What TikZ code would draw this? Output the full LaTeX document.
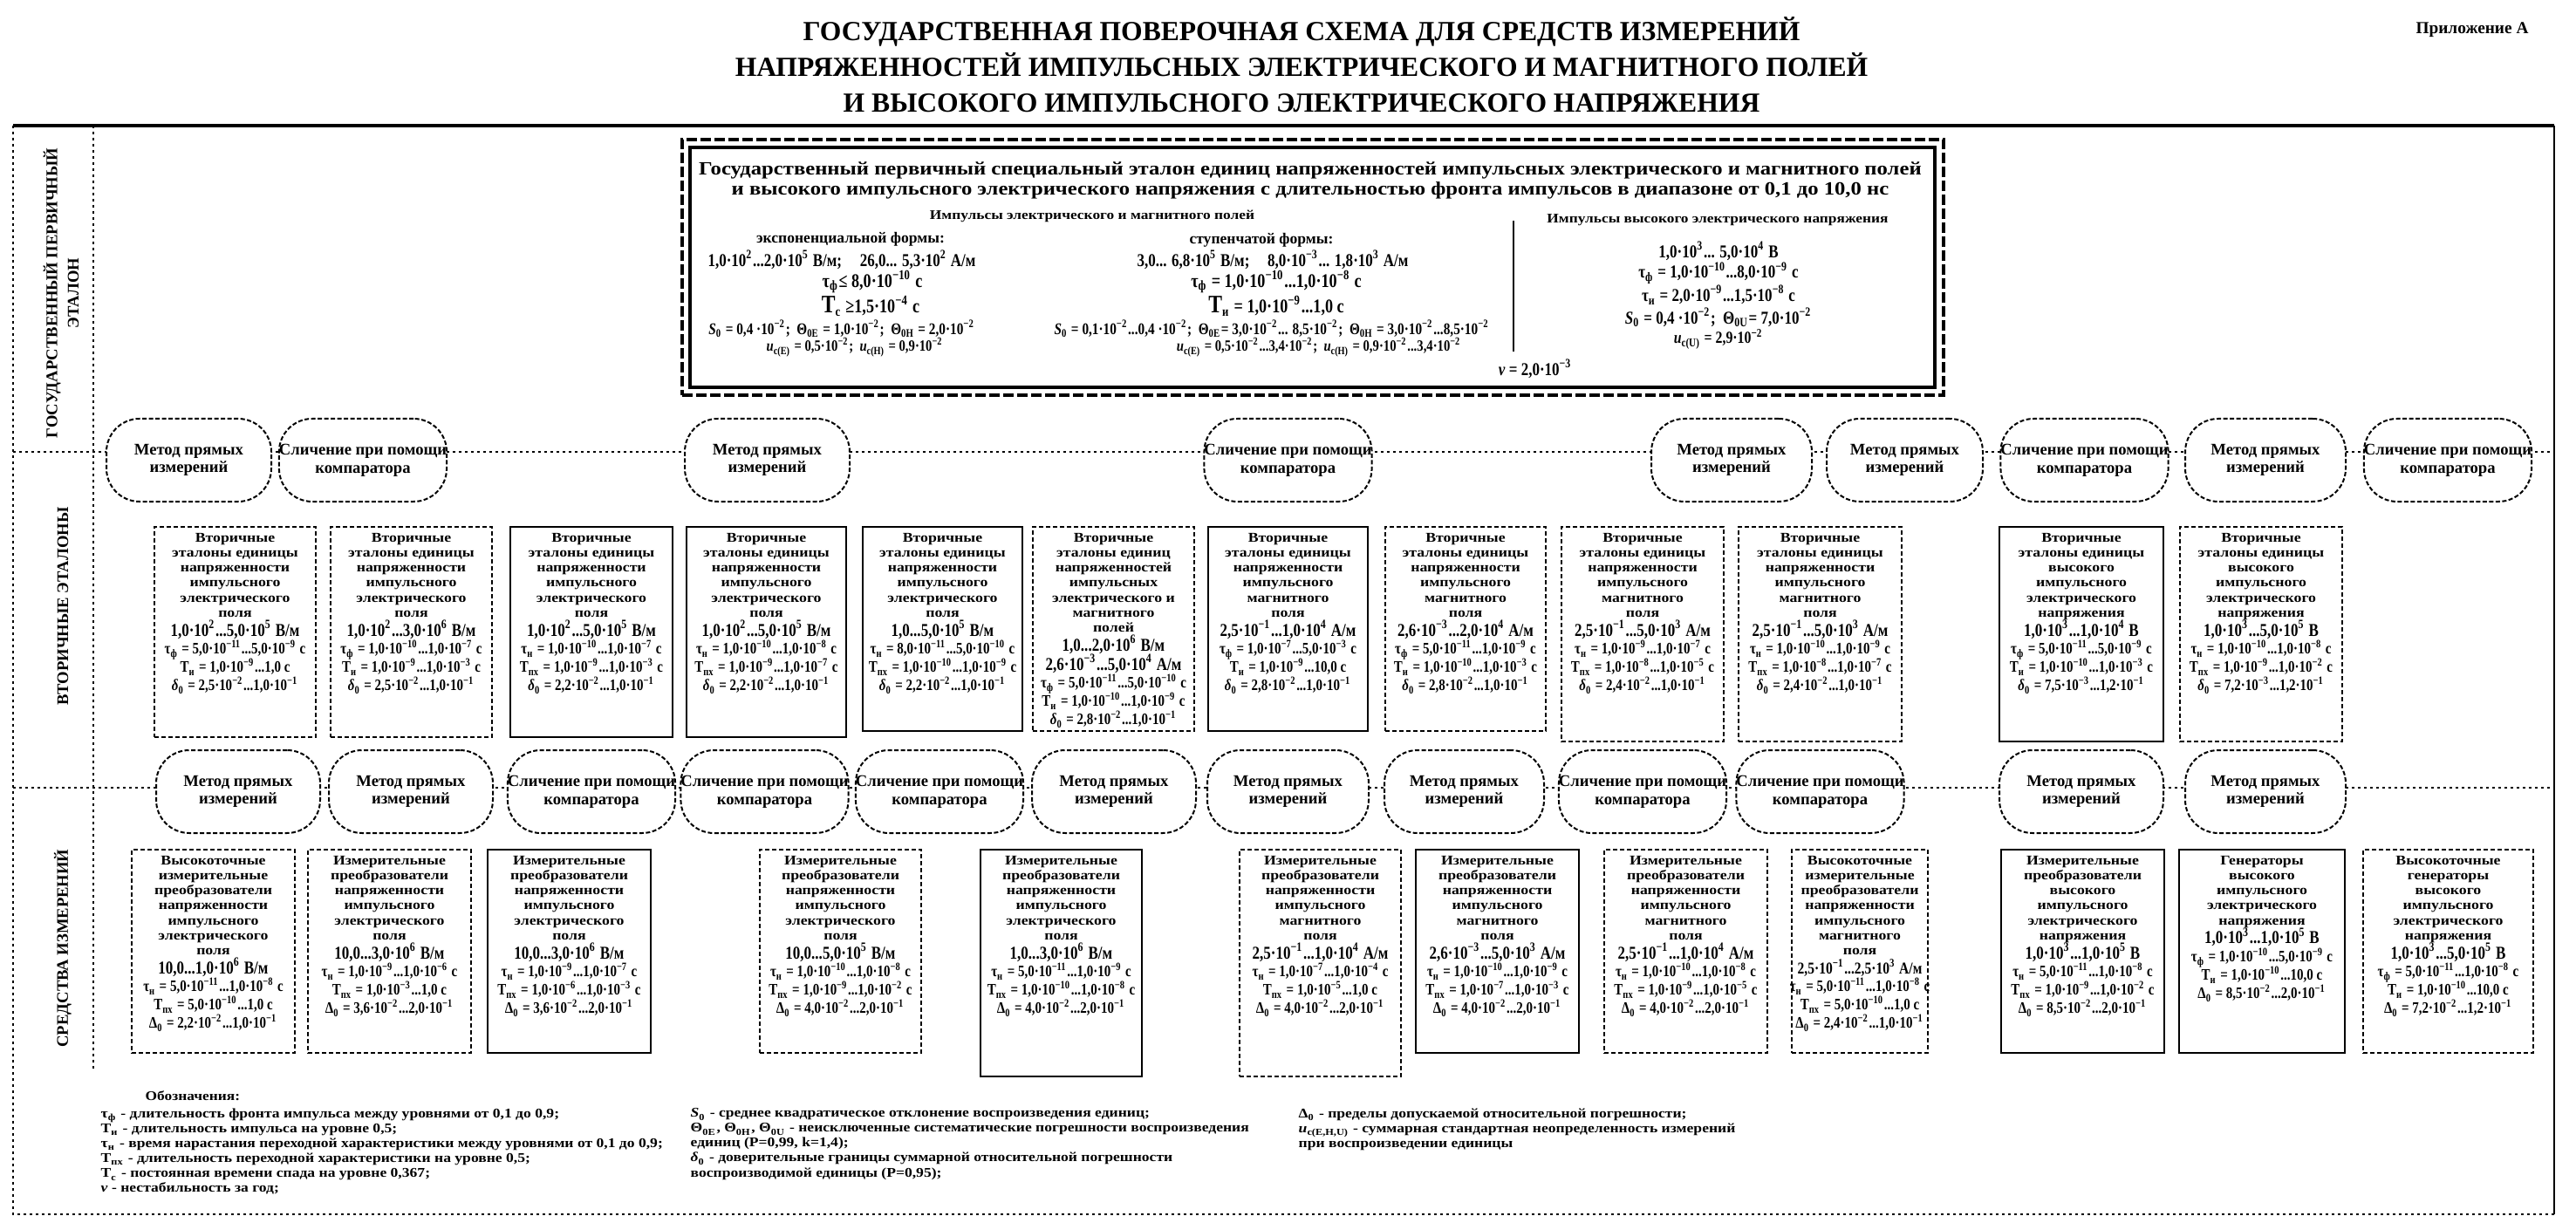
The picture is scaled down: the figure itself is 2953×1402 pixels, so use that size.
\documentclass[tikz,border=0pt]{standalone}
\usepackage{fontspec}
\setmainfont{Liberation Serif}
\newfontfamily\cnd{Liberation Serif}[FakeStretch=0.82]
\newfontfamily\widefam{Liberation Serif}[FakeStretch=1.15]
\usetikzlibrary{backgrounds}
\newcommand\fs[2]{\fontsize{#1}{#2}\selectfont\bfseries\lineskiplimit=-20pt\relax}
\newcommand\cfs[2]{\cnd\fontsize{#1}{#2}\selectfont\bfseries\lineskiplimit=-20pt\relax}
\newcommand\wfs[2]{\widefam\fontsize{#1}{#2}\selectfont\bfseries\lineskiplimit=-20pt\relax}
\newcommand\sbs[1]{\textsubscript{#1}}
\newcommand\tpow[1]{·10\textsuperscript{#1}}
\newcommand\prm[1]{{\cnd\fontsize{5.2}{4.2}\selectfont\bfseries #1}}
\newcommand\parln[1]{\\[1.1pt]\prm{#1}}
\newcommand\valln[1]{\\[1.4pt]{\cnd\fontsize{5.9}{4.2}\selectfont\bfseries #1}}
\newcommand\valsm[1]{\\[1.4pt]{\cnd\fontsize{5.4}{4.2}\selectfont\bfseries #1}}
\newcommand\dl{\textit{δ}\sbs{0}}
\newcommand\Dl{Δ\sbs{0}}
\newcommand\secE{Вторичные\\эталоны единицы\\напряженности\\импульсного\\электрического\\поля}
\newcommand\secH{Вторичные\\эталоны единицы\\напряженности\\импульсного\\магнитного\\поля}
\newcommand\secU{Вторичные\\эталоны единицы\\высокого\\импульсного\\электрического\\напряжения}
\newcommand\secF{Вторичные\\эталоны единиц\\напряженностей\\импульсных\\электрического и\\магнитного\\полей}
\newcommand\mpE{Измерительные\\преобразователи\\напряженности\\импульсного\\электрического\\поля}
\newcommand\mpH{Измерительные\\преобразователи\\напряженности\\импульсного\\магнитного\\поля}
\newcommand\mkbox[7]{%
  \node[#2, minimum width={(#4-#3)*0.1mm}, minimum height={(#6-#5)*0.1mm}] (#1) at ({(#3+#4)/2},{(#5+#6)/2}) {};
  \node[boxtext, anchor=north] (#1t) at ([yshift=-0.8mm]#1.north) {#7};}
\newcommand\mnode[6]{%
  \node[methnode, minimum width={(#3-#2)*0.1mm}, minimum height={(#5-#4)*0.1mm}] (#1) at ({(#2+#3)/2},{(#4+#5)/2}) {#6};}
\tikzset{
  every node/.style={inner sep=0pt, font=\fs{5}{6}},
  methnode/.style={draw, fill=white, rounded corners=3.8mm, line width=0.2mm, dash pattern=on 0.5mm off 0.25mm, font=\fs{5.3}{5.9}, align=center},
  sbox/.style={draw, fill=white, line width=0.2mm},
  dbox/.style={sbox, dash pattern=on 0.5mm off 0.3mm},
  boxtext/.style={font=\wfs{4.4}{4.85}, align=center},
  conn/.style={line width=0.2mm},
  sepline/.style={line width=0.2mm, dash pattern=on 0.3mm off 0.4mm},
}
\begin{document}
\begin{tikzpicture}[x=0.1mm,y=-0.1mm]
\useasboundingbox (0,0) rectangle (2953,1402);
\fill[white] (0,0) rectangle (2953,1402);
% title
\node[font=\fs{9}{11.7}, align=center] (title) at (1492,74) {ГОСУДАРСТВЕННАЯ ПОВЕРОЧНАЯ СХЕМА ДЛЯ СРЕДСТВ ИЗМЕРЕНИЙ\\НАПРЯЖЕННОСТЕЙ ИМПУЛЬСНЫХ ЭЛЕКТРИЧЕСКОГО И МАГНИТНОГО ПОЛЕЙ\\И ВЫСОКОГО ИМПУЛЬСНОГО ЭЛЕКТРИЧЕСКОГО НАПРЯЖЕНИЯ};
\node[font=\fs{5.5}{6}] (app) at (2834,34) {Приложение А};
% frame
\draw[line width=0.4mm] (15,144) -- (2928,144);
\draw[sepline] (15,144) -- (15,1392) -- (2928,1392);
\draw[line width=0.2mm] (2928,144) -- (2928,1392);
\draw[sepline] (107,144) -- (107,1225);
\draw[sepline] (15,518) -- (2928,518);
\draw[sepline] (15,903) -- (2928,903);
% side labels
\node[rotate=90, font=\fs{5.3}{7}, align=center] (lab1) at (70,336) {ГОСУДАРСТВЕННЫЙ ПЕРВИЧНЫЙ\\ЭТАЛОН};
\node[rotate=90, font=\fs{5.3}{7}] (lab2) at (72,695) {ВТОРИЧНЫЕ ЭТАЛОНЫ};
\node[rotate=90, font=\fs{5.3}{7}] (lab3) at (72,1087) {СРЕДСТВА ИЗМЕРЕНИЙ};
% primary standard
\node[draw, line width=0.45mm, dash pattern=on 1.2mm off 0.4mm, minimum width=144.6mm, minimum height=29.3mm] (pbox) at (1505,306.5) {};
\node[draw, line width=0.45mm, minimum width=142.7mm, minimum height=27.5mm] (pin) at (1504.5,306.5) {};
\node[font=\wfs{6.1}{6.4}, align=center] (ptitle) at (1502,207) {Государственный первичный специальный эталон единиц напряженностей импульсных электрического и магнитного полей\\и высокого импульсного электрического напряжения с длительностью фронта импульсов в диапазоне от 0,1 до 10,0 нс};
\draw[line width=0.25mm] (1735,253) -- (1735,403);
\node[font=\wfs{4.3}{5}] (h1) at (1252,248) {Импульсы электрического и магнитного полей};
\node[font=\wfs{4.3}{5}] (h2) at (1969,252) {Импульсы высокого электрического напряжения};
\node[font=\fs{5}{5}] (e0) at (975,274) {экспоненциальной формы:};
\node[font=\cfs{5.9}{5}] (e1) at (965,298) {1,0\tpow{2}...2,0\tpow{5} В/м;\quad 26,0... 5,3\tpow{2} А/м};
\node[font=\cfs{6.3}{5}] (e2) at (1000,323) {τ\sbs{ф}≤ 8,0\tpow{−10} с};
\node[font=\cfs{6.3}{5}] (e3) at (998,351) {{\fontsize{8.2}{5}\selectfont T}\sbs{с} ≥1,5\tpow{−4} с};
\node[font=\cfs{5.3}{5}] (e4) at (965,377) {\textit{S}\sbs{0} = 0,4 \tpow{−2};\ \ Θ\sbs{0E} = 1,0\tpow{−2};\ \ Θ\sbs{0H} = 2,0\tpow{−2}};
\node[font=\cfs{5.1}{5}] (e5) at (980,398) {\textit{u}\sbs{c(E)} = 0,5\tpow{−2};\ \ \textit{u}\sbs{c(H)} = 0,9\tpow{−2}};
\node[font=\fs{5}{5}] (s0) at (1446,275) {ступенчатой формы:};
\node[font=\cfs{5.9}{5}] (s1) at (1459,298) {3,0... 6,8\tpow{5} В/м;\quad 8,0\tpow{−3}... 1,8\tpow{3} А/м};
\node[font=\cfs{6.3}{5}] (s2) at (1463,323) {τ\sbs{ф} = 1,0\tpow{−10}...1,0\tpow{−8} с};
\node[font=\cfs{6.3}{5}] (s3) at (1463,351) {{\fontsize{8.2}{5}\selectfont T}\sbs{и} = 1,0\tpow{−9}...1,0 с};
\node[font=\cfs{5.3}{5}] (s4) at (1458,377) {\textit{S}\sbs{0} = 0,1\tpow{−2}...0,4 \tpow{−2};\ \ Θ\sbs{0E}= 3,0\tpow{−2}... 8,5\tpow{−2};\ \ Θ\sbs{0H} = 3,0\tpow{−2}...8,5\tpow{−2}};
\node[font=\cfs{5.1}{5}] (s5) at (1512,398) {\textit{u}\sbs{c(E)} = 0,5\tpow{−2}...3,4\tpow{−2};\ \ \textit{u}\sbs{c(H)} = 0,9\tpow{−2}...3,4\tpow{−2}};
\node[font=\cfs{5.9}{5}] (nu) at (1760,423) {\textit{ν} = 2,0\tpow{−3}};
\node[font=\cfs{5.9}{5}] (u1) at (1970,288) {1,0\tpow{3}... 5,0\tpow{4} В};
\node[font=\cfs{5.9}{5}] (u2) at (1970,313) {τ\sbs{ф} = 1,0\tpow{−10}...8,0\tpow{−9} с};
\node[font=\cfs{5.9}{5}] (u3) at (1970,338) {τ\sbs{и} = 2,0\tpow{−9}...1,5\tpow{−8} с};
\node[font=\cfs{5.9}{5}] (u4) at (1970,364) {\textit{S}\sbs{0} = 0,4 \tpow{−2};\ \ Θ\sbs{0U}= 7,0\tpow{−2}};
\node[font=\cfs{5.5}{5}] (u5) at (1970,389) {\textit{u}\sbs{c(U)} = 2,9\tpow{−2}};
% top method row
\mnode{t1}{122}{311}{480}{575}{Метод прямых\\измерений}
\mnode{t2}{324}{508}{480}{575}{Сличение при помощи\\компаратора}
\mnode{t3}{785}{974}{480}{575}{Метод прямых\\измерений}
\mnode{t4}{1384}{1569}{480}{575}{Сличение при помощи\\компаратора}
\mnode{t5}{1893}{2077}{480}{575}{Метод прямых\\измерений}
\mnode{t6}{2094}{2273}{480}{575}{Метод прямых\\измерений}
\mnode{t7}{2297}{2482}{480}{575}{Сличение при помощи\\компаратора}
\mnode{t8}{2505}{2689}{480}{575}{Метод прямых\\измерений}
\mnode{t9}{2712}{2900}{480}{575}{Сличение при помощи\\компаратора}
% secondary standards
\mkbox{sA}{dbox}{177}{362}{604}{845}{\secE\valln{1,0\tpow{2}...5,0\tpow{5} В/м}\parln{τ\sbs{ф} = 5,0\tpow{−11}...5,0\tpow{−9} с}\parln{T\sbs{и} = 1,0\tpow{−9}...1,0 с}\parln{\dl{} = 2,5\tpow{−2}...1,0\tpow{−1}}}
\mkbox{sB}{dbox}{379}{564}{604}{845}{\secE\valln{1,0\tpow{2}...3,0\tpow{6} В/м}\parln{τ\sbs{ф} = 1,0\tpow{−10}...1,0\tpow{−7} с}\parln{T\sbs{и} = 1,0\tpow{−9}...1,0\tpow{−3} с}\parln{\dl{} = 2,5\tpow{−2}...1,0\tpow{−1}}}
\mkbox{sC}{sbox}{585}{771}{604}{845}{\secE\valln{1,0\tpow{2}...5,0\tpow{5} В/м}\parln{τ\sbs{н} = 1,0\tpow{−10}...1,0\tpow{−7} с}\parln{T\sbs{пх} = 1,0\tpow{−9}...1,0\tpow{−3} с}\parln{\dl{} = 2,2\tpow{−2}...1,0\tpow{−1}}}
\mkbox{sD}{sbox}{787}{970}{604}{845}{\secE\valln{1,0\tpow{2}...5,0\tpow{5} В/м}\parln{τ\sbs{н} = 1,0\tpow{−10}...1,0\tpow{−8} с}\parln{T\sbs{пх} = 1,0\tpow{−9}...1,0\tpow{−7} с}\parln{\dl{} = 2,2\tpow{−2}...1,0\tpow{−1}}}
\mkbox{sE}{sbox}{989}{1172}{604}{838}{\secE\valln{1,0...5,0\tpow{5} В/м}\parln{τ\sbs{н} = 8,0\tpow{−11}...5,0\tpow{−10} с}\parln{T\sbs{пх} = 1,0\tpow{−10}...1,0\tpow{−9} с}\parln{\dl{} = 2,2\tpow{−2}...1,0\tpow{−1}}}
\mkbox{sF}{dbox}{1184}{1369}{604}{838}{\secF\valln{1,0...2,0\tpow{6} В/м}\valln{2,6\tpow{−3}...5,0\tpow{4} А/м}\parln{τ\sbs{ф} = 5,0\tpow{−11}...5,0\tpow{−10} с}\parln{T\sbs{и} = 1,0\tpow{−10}...1,0\tpow{−9} с}\parln{\dl{} = 2,8\tpow{−2}...1,0\tpow{−1}}}
\mkbox{sG}{sbox}{1385}{1568}{604}{838}{\secH\valln{2,5\tpow{−1}...1,0\tpow{4} А/м}\parln{τ\sbs{ф} = 1,0\tpow{−7}...5,0\tpow{−3} с}\parln{T\sbs{и} = 1,0\tpow{−9}...10,0 с}\parln{\dl{} = 2,8\tpow{−2}...1,0\tpow{−1}}}
\mkbox{sH}{dbox}{1588}{1772}{604}{838}{\secH\valln{2,6\tpow{−3}...2,0\tpow{4} А/м}\parln{τ\sbs{ф} = 5,0\tpow{−11}...1,0\tpow{−9} с}\parln{T\sbs{и} = 1,0\tpow{−10}...1,0\tpow{−3} с}\parln{\dl{} = 2,8\tpow{−2}...1,0\tpow{−1}}}
\mkbox{sI}{dbox}{1790}{1976}{604}{850}{\secH\valln{2,5\tpow{−1}...5,0\tpow{3} А/м}\parln{τ\sbs{н} = 1,0\tpow{−9}...1,0\tpow{−7} с}\parln{T\sbs{пх} = 1,0\tpow{−8}...1,0\tpow{−5} с}\parln{\dl{} = 2,4\tpow{−2}...1,0\tpow{−1}}}
\mkbox{sJ}{dbox}{1993}{2180}{604}{850}{\secH\valln{2,5\tpow{−1}...5,0\tpow{3} А/м}\parln{τ\sbs{н} = 1,0\tpow{−10}...1,0\tpow{−9} с}\parln{T\sbs{пх} = 1,0\tpow{−8}...1,0\tpow{−7} с}\parln{\dl{} = 2,4\tpow{−2}...1,0\tpow{−1}}}
\mkbox{sK}{sbox}{2292}{2480}{604}{850}{\secU\valln{1,0\tpow{3}...1,0\tpow{4} В}\parln{τ\sbs{ф} = 5,0\tpow{−11}...5,0\tpow{−9} с}\parln{T\sbs{и} = 1,0\tpow{−10}...1,0\tpow{−3} с}\parln{\dl{} = 7,5\tpow{−3}...1,2\tpow{−1}}}
\mkbox{sL}{dbox}{2499}{2685}{604}{850}{\secU\valln{1,0\tpow{3}...5,0\tpow{5} В}\parln{τ\sbs{н} = 1,0\tpow{−10}...1,0\tpow{−8} с}\parln{T\sbs{пх} = 1,0\tpow{−9}...1,0\tpow{−2} с}\parln{\dl{} = 7,2\tpow{−3}...1,2\tpow{−1}}}
% lower method row
\mnode{l1}{179}{367}{860}{955}{Метод прямых\\измерений}
\mnode{l2}{377}{565}{860}{955}{Метод прямых\\измерений}
\mnode{l3}{584}{772}{860}{955}{Сличение при помощи\\компаратора}
\mnode{l4}{783}{970}{860}{955}{Сличение при помощи\\компаратора}
\mnode{l5}{983}{1171}{860}{955}{Сличение при помощи\\компаратора}
\mnode{l6}{1183}{1371}{860}{955}{Метод прямых\\измерений}
\mnode{l7}{1384}{1569}{860}{955}{Метод прямых\\измерений}
\mnode{l8}{1587}{1770}{860}{955}{Метод прямых\\измерений}
\mnode{l9}{1789}{1977}{860}{955}{Сличение при помощи\\компаратора}
\mnode{l10}{1992}{2181}{860}{955}{Сличение при помощи\\компаратора}
\mnode{l11}{2292}{2480}{860}{955}{Метод прямых\\измерений}
\mnode{l12}{2505}{2689}{860}{955}{Метод прямых\\измерений}
% measuring instruments
\mkbox{b1}{dbox}{151}{338}{974}{1207}{Высокоточные\\измерительные\\преобразователи\\напряженности\\импульсного\\электрического\\поля\valln{10,0...1,0\tpow{6} В/м}\parln{τ\sbs{н} = 5,0\tpow{−11}...1,0\tpow{−8} с}\parln{T\sbs{пх} = 5,0\tpow{−10}...1,0 с}\parln{\Dl{} = 2,2\tpow{−2}...1,0\tpow{−1}}}
\mkbox{b2}{dbox}{353}{540}{974}{1207}{\mpE\valln{10,0...3,0\tpow{6} В/м}\parln{τ\sbs{н} = 1,0\tpow{−9}...1,0\tpow{−6} с}\parln{T\sbs{пх} = 1,0\tpow{−3}...1,0 с}\parln{\Dl{} = 3,6\tpow{−2}...2,0\tpow{−1}}}
\mkbox{b3}{sbox}{559}{746}{974}{1207}{\mpE\valln{10,0...3,0\tpow{6} В/м}\parln{τ\sbs{н} = 1,0\tpow{−9}...1,0\tpow{−7} с}\parln{T\sbs{пх} = 1,0\tpow{−6}...1,0\tpow{−3} с}\parln{\Dl{} = 3,6\tpow{−2}...2,0\tpow{−1}}}
\mkbox{b4}{dbox}{871}{1056}{974}{1207}{\mpE\valln{10,0...5,0\tpow{5} В/м}\parln{τ\sbs{н} = 1,0\tpow{−10}...1,0\tpow{−8} с}\parln{T\sbs{пх} = 1,0\tpow{−9}...1,0\tpow{−2} с}\parln{\Dl{} = 4,0\tpow{−2}...2,0\tpow{−1}}}
\mkbox{b5}{sbox}{1124}{1309}{974}{1234}{\mpE\valln{1,0...3,0\tpow{6} В/м}\parln{τ\sbs{н} = 5,0\tpow{−11}...1,0\tpow{−9} с}\parln{T\sbs{пх} = 1,0\tpow{−10}...1,0\tpow{−8} с}\parln{\Dl{} = 4,0\tpow{−2}...2,0\tpow{−1}}}
\mkbox{b6}{dbox}{1421}{1606}{974}{1234}{\mpH\valln{2,5\tpow{−1}...1,0\tpow{4} А/м}\parln{τ\sbs{н} = 1,0\tpow{−7}...1,0\tpow{−4} с}\parln{T\sbs{пх} = 1,0\tpow{−5}...1,0 с}\parln{\Dl{} = 4,0\tpow{−2}...2,0\tpow{−1}}}
\mkbox{b7}{sbox}{1623}{1810}{974}{1207}{\mpH\valln{2,6\tpow{−3}...5,0\tpow{3} А/м}\parln{τ\sbs{н} = 1,0\tpow{−10}...1,0\tpow{−9} с}\parln{T\sbs{пх} = 1,0\tpow{−7}...1,0\tpow{−3} с}\parln{\Dl{} = 4,0\tpow{−2}...2,0\tpow{−1}}}
\mkbox{b8}{dbox}{1839}{2026}{974}{1207}{\mpH\valln{2,5\tpow{−1}...1,0\tpow{4} А/м}\parln{τ\sbs{н} = 1,0\tpow{−10}...1,0\tpow{−8} с}\parln{T\sbs{пх} = 1,0\tpow{−9}...1,0\tpow{−5} с}\parln{\Dl{} = 4,0\tpow{−2}...2,0\tpow{−1}}}
\mkbox{b9}{dbox}{2054}{2210}{974}{1207}{Высокоточные\\измерительные\\преобразователи\\напряженности\\импульсного\\магнитного\\поля\valsm{2,5\tpow{−1}...2,5\tpow{3} А/м}\parln{τ\sbs{н} = 5,0\tpow{−11}...1,0\tpow{−8} с}\parln{T\sbs{пх} = 5,0\tpow{−10}...1,0 с}\parln{\Dl{} = 2,4\tpow{−2}...1,0\tpow{−1}}}
\mkbox{b10}{sbox}{2294}{2481}{974}{1207}{Измерительные\\преобразователи\\высокого\\импульсного\\электрического\\напряжения\valln{1,0\tpow{3}...1,0\tpow{5} В}\parln{τ\sbs{н} = 5,0\tpow{−11}...1,0\tpow{−8} с}\parln{T\sbs{пх} = 1,0\tpow{−9}...1,0\tpow{−2} с}\parln{\Dl{} = 8,5\tpow{−2}...2,0\tpow{−1}}}
\mkbox{b11}{sbox}{2498}{2688}{974}{1207}{Генераторы\\высокого\\импульсного\\электрического\\напряжения\valln{1,0\tpow{3}...1,0\tpow{5} В}\parln{τ\sbs{ф} = 1,0\tpow{−10}...5,0\tpow{−9} с}\parln{T\sbs{и} = 1,0\tpow{−10}...10,0 с}\parln{\Dl{} = 8,5\tpow{−2}...2,0\tpow{−1}}}
\mkbox{b12}{dbox}{2709}{2904}{974}{1207}{Высокоточные\\генераторы\\высокого\\импульсного\\электрического\\напряжения\valln{1,0\tpow{3}...5,0\tpow{5} В}\parln{τ\sbs{ф} = 5,0\tpow{−11}...1,0\tpow{−8} с}\parln{T\sbs{и} = 1,0\tpow{−10}...10,0 с}\parln{\Dl{} = 7,2\tpow{−2}...1,2\tpow{−1}}}
% legend
\node[anchor=west, font=\wfs{4.3}{5}] (lg0) at (166,1256) {Обозначения:};
\node[anchor=north west, align=left, font=\wfs{4.35}{4.85}] (lg1) at (115,1270) {τ\sbs{ф} - длительность фронта импульса между уровнями от 0,1 до 0,9;\\T\sbs{и} - длительность импульса на уровне 0,5;\\τ\sbs{н} - время нарастания переходной характеристики между уровнями от 0,1 до 0,9;\\T\sbs{пх} - длительность переходной характеристики на уровне 0,5;\\T\sbs{с} - постоянная времени спада на уровне 0,367;\\\textit{ν} - нестабильность за год;};
\node[anchor=north west, align=left, font=\wfs{4.35}{4.85}] (lg2) at (791,1270) {\textit{S}\sbs{0} - среднее квадратическое отклонение воспроизведения единиц;\\Θ\sbs{0E}, Θ\sbs{0H}, Θ\sbs{0U} - неисключенные систематические погрешности воспроизведения\\единиц (P=0,99, k=1,4);\\\dl{} - доверительные границы суммарной относительной погрешности\\воспроизводимой единицы (P=0,95);};
\node[anchor=north west, align=left, font=\wfs{4.35}{4.85}] (lg3) at (1488,1270) {\Dl{} - пределы допускаемой относительной погрешности;\\\textit{u}\sbs{c(E,H,U)} - суммарная стандартная неопределенность измерений\\при воспроизведении единицы};
% connectors
\begin{scope}[on background layer, conn]
  \coordinate (busL) at (168,468);
  \coordinate (busR) at (2808,468);
  \coordinate (c6) at (2209,468);
  \coordinate (r1) at (0,593);
  \coordinate (r3) at (0,962);
  \draw (pbox.south -| t4.north) -- (t4.north);
  \draw[line width=0.45mm] (busL) -- (busR);
  \foreach \n in {t2,t3,t5,t7,t8} \draw (\n.north |- busL) -- (\n.north);
  \draw (busL) -- (busL |- b1.north);
  \draw[dash pattern=on 0.5mm off 0.3mm] (c6) -- (c6 |- b9.north);
  \draw (busR) -- (busR |- b12.north);
  % to secondary
  \draw (t2.south) -- (t2.south |- r1);
  \draw (sA.north) |- (522,593) -- (522,604);
  \draw (t3.south) -- (t3.south |- sD.north);
  \draw (sC.north) |- (r1 -| sE.north) -- (sE.north);
  \draw (t4.south) -- (t4.south |- sG.north);
  \draw (sF.north) |- (r1 -| sH.north) -- (sH.north);
  \draw (t5.south) -- (t5.south |- r1);
  \draw (sI.north) |- (r1 -| sJ.north) -- (sJ.north);
  \draw (t7.south) -- (t7.south |- sK.north);
  \draw (t8.south) -- (t8.south |- sL.north);
  % secondary to lower methods
  \draw (sA.south) -- (sA.south |- l1.north);
  \draw (sB.south) -- (sB.south |- l2.north);
  \draw (sC.south) -- (sC.south |- l3.north);
  \draw (sD.south) -- (sD.south |- l4.north);
  \draw (sE.south) -- (sE.south |- l5.north);
  \draw (sF.south) -- (sF.south |- l6.north);
  \draw (sG.south) -- (sG.south |- l7.north);
  \draw (sH.south) -- (sH.south |- l8.north);
  \draw (sI.south) -- (sI.south |- l9.north);
  \draw (sJ.south) -- (sJ.south |- l10.north);
  \draw (sK.south) -- (sK.south |- l11.north);
  \draw (sL.south) -- (sL.south |- l12.north);
  % lower methods to instruments
  \draw (l1.south) |- (434,962) -- (b2.north) -- (459,962) -- (640,962) -- (b3.north) -- (665,962) -| (l3.south);
  \draw (l2.south) -- (l2.south |- r3);
  \draw (l4.south) |- (951,962) -- (b4.north) -- (976,962) -- (1204,962) -- (b5.north) -- (1229,962) -| (l6.south);
  \draw (l5.south) -- (l5.south |- r3);
  \draw (l7.south) |- (1501,962) -- (b6.north) -- (1526,962) -- (1704,962) -- (b7.north);
  \draw (l8.south) -- (l8.south |- r3);
  \draw (l9.south) |- (1920,962) -- (b8.north) -- (1945,962) -| (l10.south);
  \draw (l11.south) -- (l11.south |- b10.north);
  \draw (l12.south) -- (l12.south |- b11.north);
\end{scope}
\end{tikzpicture}
\end{document}
